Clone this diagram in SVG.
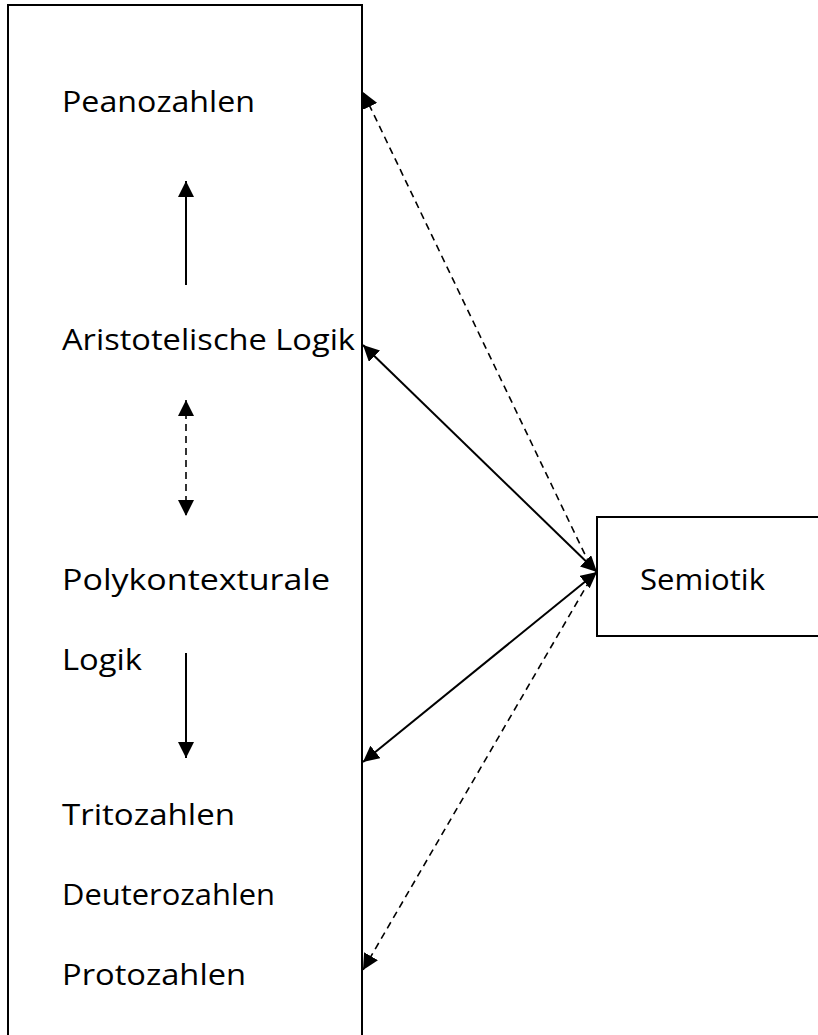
<svg xmlns="http://www.w3.org/2000/svg" width="818" height="1035" viewBox="0 0 818 1035">
<style>
.box{fill:#fff;stroke:#000;stroke-width:2}
.t{font-family:"Open Sans","Liberation Sans",sans-serif;font-size:29px;fill:#000}
.s{stroke:#000;stroke-width:2;fill:none}
.d{stroke:#000;stroke-width:1.6;fill:none;stroke-dasharray:7,5}
</style>
<defs>
<marker id="av" viewBox="0 0 10 10" refX="10" refY="5" markerWidth="16" markerHeight="16" markerUnits="userSpaceOnUse" orient="auto-start-reverse"><path d="M0,0L10,5L0,10z" fill="#000"/></marker>
</defs>
<g id="main">
<rect class="box" x="8" y="5" width="354" height="1040"/>
<text class="t" x="62" y="112" textLength="193" lengthAdjust="spacingAndGlyphs">Peanozahlen</text>
<text class="t" x="62" y="350" textLength="293" lengthAdjust="spacingAndGlyphs">Aristotelische Logik</text>
<text class="t" x="62" y="590" textLength="268" lengthAdjust="spacingAndGlyphs">Polykontexturale</text>
<text class="t" x="62" y="670" textLength="80" lengthAdjust="spacingAndGlyphs">Logik</text>
<text class="t" x="62" y="825" textLength="173" lengthAdjust="spacingAndGlyphs">Tritozahlen</text>
<text class="t" x="62" y="905" textLength="213" lengthAdjust="spacingAndGlyphs">Deuterozahlen</text>
<text class="t" x="62" y="985" textLength="184" lengthAdjust="spacingAndGlyphs">Protozahlen</text>
</g>
<g id="semiotik">
<rect class="box" x="597" y="517" width="230" height="119"/>
<text class="t" x="640" y="590" textLength="125" lengthAdjust="spacingAndGlyphs">Semiotik</text>
</g>
<g id="connectors">
<line class="s" x1="186" y1="285" x2="186" y2="181" marker-end="url(#av)"/>
<line class="d" x1="186" y1="400" x2="186" y2="516" marker-start="url(#av)" marker-end="url(#av)"/>
<line class="s" x1="186" y1="653" x2="186" y2="758" marker-end="url(#av)"/>
<line class="d" x1="590" y1="565" x2="363" y2="92" marker-end="url(#av)"/>
<line class="s" x1="597" y1="572" x2="363" y2="345" marker-start="url(#av)" marker-end="url(#av)"/>
<line class="s" x1="597" y1="572" x2="363" y2="762" marker-start="url(#av)" marker-end="url(#av)"/>
<line class="d" x1="590" y1="580" x2="363" y2="970" marker-end="url(#av)"/>
</g>
</svg>
